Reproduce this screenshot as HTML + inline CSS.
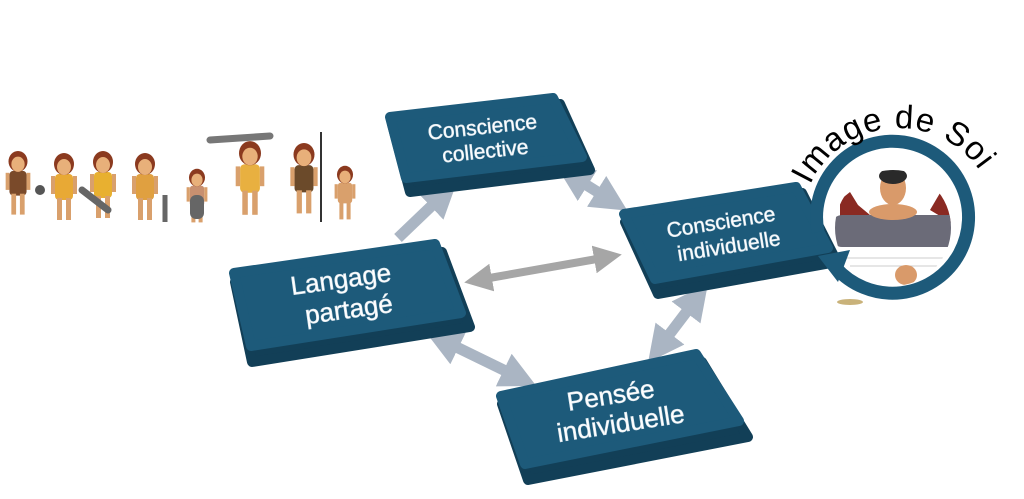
<!DOCTYPE html>
<html><head><meta charset="utf-8"><style>
html,body{margin:0;padding:0;background:#fff;width:1024px;height:499px;overflow:hidden}
text{font-family:"Liberation Sans",sans-serif}
.bt{fill:#fff;stroke:#d8e4ec;stroke-width:0.6}
</style></head><body>
<svg width="1024" height="499" viewBox="0 0 1024 499" xmlns="http://www.w3.org/2000/svg">
<defs>
<g id="fig">
<rect x="-9" y="22" width="18" height="26" rx="4" fill="currentColor"/>
<rect x="-7" y="46" width="5" height="22" fill="#d9a06c"/>
<rect x="2" y="46" width="5" height="22" fill="#d9a06c"/>
<rect x="-13" y="24" width="4" height="18" fill="#d9a06c"/>
<rect x="9" y="24" width="4" height="18" fill="#d9a06c"/>
<ellipse cx="0" cy="12" rx="10" ry="11" fill="#8b3a1f"/>
<ellipse cx="0" cy="15" rx="7" ry="8" fill="#e8b07a"/>
</g>
<marker id="ah" viewBox="0 0 10 10" refX="5" refY="5" markerWidth="3.3" markerHeight="3.3" orient="auto-start-reverse"><path d="M0,0L10,5L0,10z" fill="#aab5c3"/></marker>
<marker id="ah2" viewBox="0 0 10 10" refX="5" refY="5" markerWidth="3.5" markerHeight="3.5" orient="auto-start-reverse"><path d="M0,0L10,5L0,10z" fill="#a6a6a6"/></marker>
<path id="arcp" d="M810,185 A98,98 0 0 1 990,190"/>
</defs>

<!-- cavemen -->
<g transform="translate(18,150) scale(0.95)" color="#7a4a2a"><use href="#fig"/></g>
<g transform="translate(64,152)" color="#e8a935"><use href="#fig"/></g>
<g transform="translate(103,150)" color="#e8b030"><use href="#fig"/></g>
<g transform="translate(145,152)" color="#e0a040"><use href="#fig"/></g>
<g transform="translate(197,168) scale(0.8)" color="#c89070"><use href="#fig"/></g>
<rect x="190" y="195" width="14" height="24" rx="6" fill="#666"/>
<g transform="translate(250,140) scale(1.1)" color="#e8b040"><use href="#fig"/></g>
<path d="M210,140 L270,136" stroke="#777" stroke-width="7" stroke-linecap="round"/>
<g transform="translate(304,142) scale(1.05)" color="#6b4a2a"><use href="#fig"/></g>
<line x1="321" y1="132" x2="321" y2="222" stroke="#333" stroke-width="2"/>
<g transform="translate(345,165) scale(0.8)" color="#d9a06c"><use href="#fig"/></g>
<line x1="165" y1="195" x2="165" y2="222" stroke="#666" stroke-width="5"/>
<line x1="82" y1="190" x2="108" y2="210" stroke="#666" stroke-width="7" stroke-linecap="round"/>
<circle cx="40" cy="190" r="5" fill="#555"/>

<!-- arrows -->
<g stroke="#aab5c3" stroke-width="11" fill="none">
<line x1="398" y1="238" x2="444" y2="194" marker-end="url(#ah)"/>
<line x1="572" y1="176" x2="612" y2="201" marker-start="url(#ah)" marker-end="url(#ah)"/>
<line x1="442" y1="340" x2="520" y2="378" marker-start="url(#ah)" marker-end="url(#ah)"/>
<line x1="659" y1="348" x2="697" y2="298" marker-start="url(#ah)" marker-end="url(#ah)"/>
</g>
<line x1="478" y1="280" x2="608" y2="257" stroke="#a6a6a6" stroke-width="8" marker-start="url(#ah2)" marker-end="url(#ah2)"/>

<!-- boxes -->
<g stroke-linejoin="round" stroke-width="10">
<polygon points="392,124 560,104 590,170 410,192" fill="#123f57" stroke="#123f57"/>
<polygon points="390,117 553,98 582,157 406,178" fill="#1d5a7a" stroke="#1d5a7a"/>
<polygon points="625,222 802,193 837,262 658,294" fill="#123f57" stroke="#123f57"/>
<polygon points="624,214 796,187 828,248 655,279" fill="#1d5a7a" stroke="#1d5a7a"/>
<polygon points="235,282 442,252 470,327 252,362" fill="#123f57" stroke="#123f57"/>
<polygon points="234,273 435,244 461,313 251,346" fill="#1d5a7a" stroke="#1d5a7a"/>
<polygon points="502,404 702,362 748,437 528,480" fill="#123f57" stroke="#123f57"/>
<polygon points="501,396 696,354 739,421 525,464" fill="#1d5a7a" stroke="#1d5a7a"/>
</g>
<text class="bt" font-size="21" text-anchor="middle" transform="translate(483,134) rotate(-6)">Conscience</text>
<text class="bt" font-size="21" text-anchor="middle" transform="translate(486,158) rotate(-6)">collective</text>
<text class="bt" font-size="21" text-anchor="middle" transform="translate(722,229) rotate(-9)">Conscience</text>
<text class="bt" font-size="21" text-anchor="middle" transform="translate(730,253) rotate(-9)">individuelle</text>
<text class="bt" font-size="26" text-anchor="middle" transform="translate(342,288) rotate(-8)">Langage</text>
<text class="bt" font-size="26" text-anchor="middle" transform="translate(350,318) rotate(-8)">partagé</text>
<text class="bt" font-size="26" text-anchor="middle" transform="translate(612,404) rotate(-9)">Pensée</text>
<text class="bt" font-size="26" text-anchor="middle" transform="translate(622,432) rotate(-9)">individuelle</text>

<!-- image de soi -->
<clipPath id="cc"><circle cx="893" cy="228" r="58"/></clipPath>
<g clip-path="url(#cc)">
<rect x="830" y="165" width="130" height="130" fill="#fff"/>
<path d="M840,200 L850,192 L858,205 L870,215 L840,230z" fill="#8a2a22"/>
<path d="M950,200 L940,193 L930,210 L955,225z" fill="#8a2a22"/>
<rect x="832" y="215" width="130" height="32" rx="10" fill="#6b6b78"/>
<ellipse cx="893" cy="188" rx="13" ry="17" fill="#d99a6a"/>
<ellipse cx="893" cy="176" rx="14" ry="8" fill="#2a2a2a"/>
<ellipse cx="893" cy="212" rx="24" ry="8" fill="#d99a6a"/>
<g stroke="#ccc" stroke-width="1"><line x1="840" y1="258" x2="950" y2="258"/><line x1="850" y1="266" x2="940" y2="266"/></g>
<ellipse cx="906" cy="275" rx="11" ry="10" fill="#d99a6a"/>
</g>
<path d="M818,232 A76,76 0 1 1 836,268" fill="none" stroke="#1d5a7a" stroke-width="13"/>
<polygon points="818,256 850,250 838,282" fill="#1d5a7a"/>
<ellipse cx="850" cy="302" rx="13" ry="3" fill="#c9b27a"/>
<text font-size="33" fill="#000" letter-spacing="1"><textPath href="#arcp">Image de Soi</textPath></text>
</svg>
</body></html>
